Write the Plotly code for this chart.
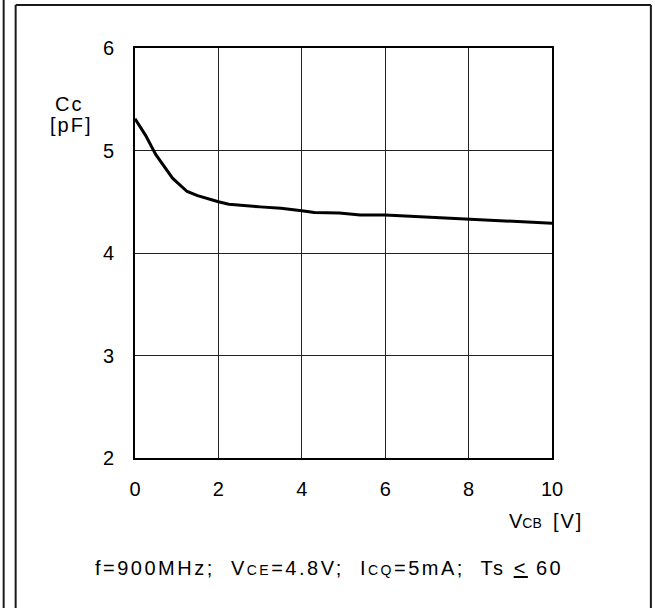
import plotly.graph_objects as go

# Data
vcb = [0.0, 0.25, 0.5, 0.9, 1.25, 1.5, 2.0, 2.25, 3.0, 3.5, 4.0, 4.3, 4.9, 5.4, 6.0, 7.0, 8.0, 9.0, 10.0]
cc = [5.31, 5.15, 4.96, 4.73, 4.60, 4.56, 4.50, 4.475, 4.45, 4.436, 4.413, 4.395, 4.39, 4.37, 4.37, 4.35, 4.33, 4.31, 4.29]

x_ticks = [0, 2, 4, 6, 8, 10]
y_ticks = [2, 3, 4, 5, 6]

W, H = 655, 608
L, R, T, B = 134.5, 552, 48, 458
FONT = "Liberation Sans, Arial, sans-serif"

def px(x):
    return (x - L) / (R - L)

def py(y):
    return (B - y) / (B - T)

fig = go.Figure()
fig.add_trace(go.Scatter(x=vcb, y=cc, mode="lines",
                         line=dict(color="black", width=3), showlegend=False))

axis_common = dict(showgrid=True, gridcolor="#222", gridwidth=1,
                   showline=True, linecolor="black", linewidth=2, mirror=True,
                   zeroline=False, ticks="", tickfont=dict(family=FONT, size=20, color="black"))
fig.update_xaxes(range=[0, 10], tickvals=x_ticks, ticklabelstandoff=12, **axis_common)
fig.update_yaxes(range=[2, 6], tickvals=y_ticks, ticklabelstandoff=15, **axis_common)

shapes = []
lc = "#1a1a1a"
shapes.append(dict(type="line", xref="paper", yref="paper", x0=px(3), x1=px(3), y0=py(0), y1=py(608), line=dict(color=lc, width=2)))
shapes.append(dict(type="line", xref="paper", yref="paper", x0=px(15), x1=px(15), y0=py(5), y1=py(608), line=dict(color=lc, width=2)))
shapes.append(dict(type="line", xref="paper", yref="paper", x0=px(15), x1=px(651), y0=py(5), y1=py(5), line=dict(color=lc, width=2)))
shapes.append(dict(type="line", xref="paper", yref="paper", x0=px(651), x1=px(651), y0=py(5), y1=py(608), line=dict(color=lc, width=2)))

def ann(text, x, y, size=19, xanchor="center", yanchor="middle"):
    return dict(text=text, x=px(x), y=py(y), xref="paper", yref="paper", showarrow=False,
                xanchor=xanchor, yanchor=yanchor,
                font=dict(family=FONT, size=size, color="black"))

YB = 568
SUB = "<span style='font-size:14px'>{}</span>"
cond_text = ("<span style='letter-spacing:2.5px'>f=900MHz;  V" + SUB.format("CE") + "=4.8V;  I"
             + SUB.format("CQ") + "=5mA;  Ts <u>&lt;</u> 60</span>")
annotations = [
    ann("<span style='letter-spacing:2px'>Cc</span>", 68, 104, size=20),
    ann("<span style='letter-spacing:2px'>[pF]</span>", 70, 125, size=20),
    ann("V" + SUB.format("CB") + "  <span style='letter-spacing:2px'>[V]</span>", 507, 521, xanchor="left", size=20),
    ann(cond_text, 329, YB, size=20),
]

fig.update_layout(width=W, height=H, margin=dict(l=L, r=W - R, t=T, b=H - B),
                  paper_bgcolor="white", plot_bgcolor="white",
                  shapes=shapes, annotations=annotations)

fig.write_html("out.html")
